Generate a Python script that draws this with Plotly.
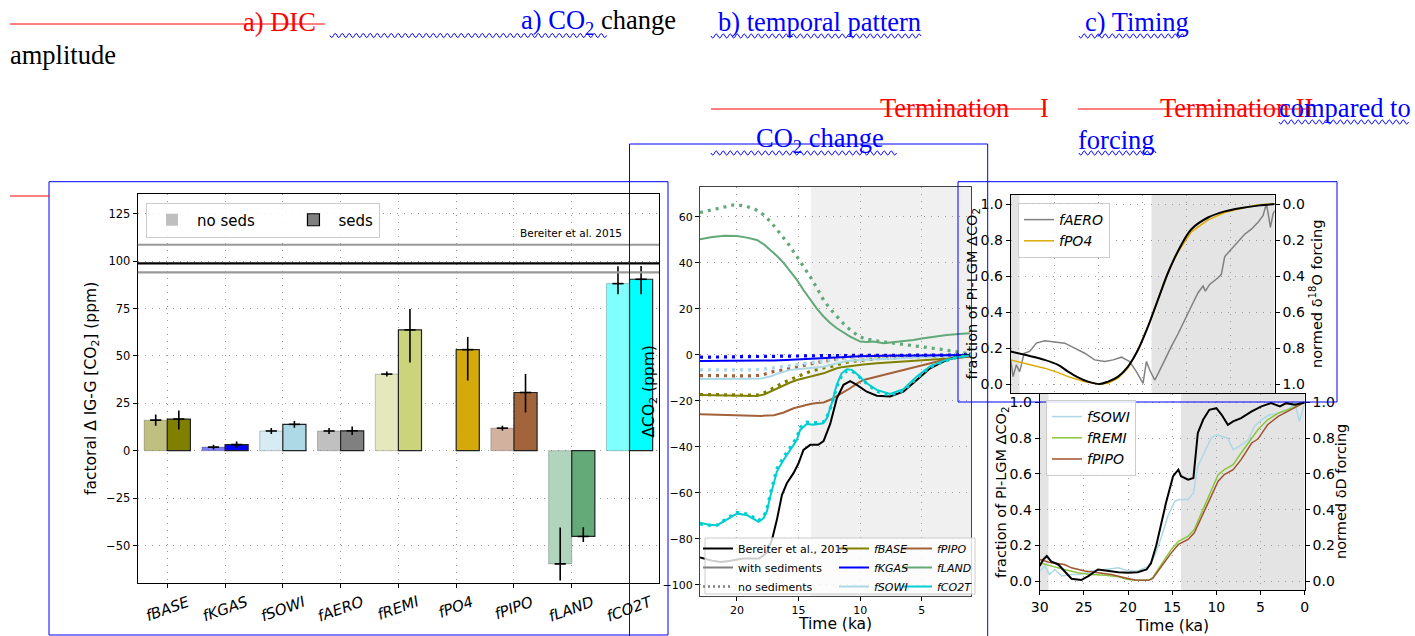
import plotly.graph_objects as go

W, H = 1415, 636


def PX(x):
    return x / W


def PY(y):
    return 1 - y / H


# ---------------- panel a : factorial bar chart ----------------
categories = ['fBASE', 'fKGAS', 'fSOWI', 'fAERO', 'fREMI', 'fPO4', 'fPIPO', 'fLAND', 'fCO2T']
noseds_values = [16.1, 1.9, 10.4, 10.4, 40.4, None, 11.9, -59.7, 88.1]
noseds_err_up = [3.0, 1.2, 1.6, 1.6, 1.3, None, 1.3, 19.2, 9.1]
noseds_err_down = [3.0, 1.2, 1.6, 1.6, 1.3, None, 1.3, 8.8, 5.6]
seds_values = [16.7, 3.2, 13.9, 10.5, 63.7, 53.3, 30.7, -45.2, 90.4]
seds_err_up = [4.5, 1.6, 1.8, 2.2, 11.0, 6.7, 9.8, 4.9, 7.0]
seds_err_down = [5.5, 1.6, 1.8, 2.2, 17.2, 16.3, 10.5, 2.9, 7.9]
noseds_colors = ['#bfbf80', '#8080ff', '#d6ebf2', '#c0c0c0', '#e5e8bd', '#e9d484', '#d2b19f', '#b1d5bc', '#80ffff']
seds_colors = ['#808000', '#0000ff', '#add8e6', '#808080', '#cbd47b', '#d4a90a', '#a3633b', '#64a978', '#00ffff']
bereiter_mean = 98.8
bereiter_high = 108.6
bereiter_low = 94.0
bar_yticks = [-50, -25, 0, 25, 50, 75, 100, 125]

# ---------------- panel b : temporal pattern ----------------
bereiter_t = [23, 22, 21.3, 20.5, 19.5, 18.8, 18.2, 17.6, 17.16, 16.76, 16.35, 15.95, 15.41, 15.0, 14.6, 14.05,
              13.4, 12.97, 12.43, 11.9, 11.35, 10.81, 10.27, 9.46, 8.65, 7.57, 6.49, 5.4, 4.32, 3.24, 2.16, 1.08]
bereiter_v = [-88, -89.5, -90, -89.5, -88.5, -88.5, -88.5, -86, -80.4, -71.7, -60.9, -55.8, -51.4, -47.1, -41.3, -39.1,
              -39.1, -37.5, -30, -19, -13, -11.4, -13, -16, -17.7, -18.1, -16, -10.9, -5.8, -2.9, -0.7, 0]

fco2t_t = [23.0, 22.3, 21.6, 20.8, 20.0, 19.2, 18.7, 18.25, 17.84, 17.57, 17.3, 17.03, 16.76, 16.22, 15.68, 15.14,
           14.87, 14.33, 13.8, 13.3, 13.0, 12.7, 12.3, 11.9, 11.5, 11.08, 10.67, 10.27, 9.46, 8.65, 7.57, 6.49,
           5.4, 4.32, 3.24, 2.16, 1.08]
fco2t_seds = [-73, -73.8, -74, -71.5, -69, -69.6, -71, -72.5, -71, -68, -61.6, -55.8, -50.7, -45.7, -41.5, -37,
              -32.6, -30, -30.4, -30, -29.7, -27.5, -21, -13, -8, -6.2, -6.5, -8.3, -12.3, -15.2, -17, -14.9,
              -9.4, -5, -2.6, -1, -0.3]
fco2t_noseds = [-73.5, -74, -74, -71, -68.5, -69.2, -70.5, -72, -70.5, -67, -60.5, -54.5, -49.5, -44.5, -40.5, -36,
                -31.5, -29.2, -29.6, -29.5, -29.2, -27, -21.5, -14, -9, -7, -7, -8.5, -12.5, -15.8, -17.5, -15.5,
                -10, -5.3, -2.8, -1.1, -0.3]

fland_t = [23.0, 22.0, 21.0, 20.0, 19.2, 18.38, 17.84, 17.3, 16.75, 16.2, 15.67, 15.13, 14.6, 14.05, 13.5, 12.97,
           12.43, 11.89, 11.35, 10.81, 10.27, 10.0, 9.46, 8.92, 8.11, 7.3, 6.49, 5.68, 5.0, 4.32, 3.65, 2.97, 2.0, 1.08]
fland_seds = [50.3, 51.3, 51.8, 51.7, 51.0, 50.0, 48.2, 45.7, 43.0, 39.9, 36.3, 32.6, 28.2, 23.9, 20.0, 16.7,
              13.9, 11.6, 9.7, 8.0, 6.5, 5.8, 5.6, 5.8, 5.1, 5.6, 5.8, 6.5, 7.1, 7.7, 8.2, 8.7, 9.1, 9.4]
fland_nt = [23.0, 22.3, 21.62, 20.9, 20.27, 19.7, 19.19, 18.5, 17.84, 17.2, 16.49, 15.8, 15.13, 14.6, 14.05, 13.5,
            12.97, 12.43, 11.89, 11.35, 10.81, 10.27, 9.73, 9.05, 8.38, 7.57, 6.76, 5.95, 5.14, 4.32, 3.51, 2.7,
            1.89, 1.08]
fland_noseds = [61.9, 62.8, 63.8, 64.7, 65.2, 65.0, 64.5, 63.2, 60.9, 57.5, 52.9, 48, 42.7, 38.5, 34, 29,
                23.9, 20, 16.7, 13.6, 10.9, 8.8, 7.2, 6.4, 5.8, 5.3, 4.8, 4.2, 3.6, 3.0, 2.5, 1.8, 1.1, 0.5]

fbase_t = [23, 21, 19.5, 18.38, 17.8, 17.3, 16.76, 16.2, 15.68, 15.13, 14.6, 14.05, 13.5, 12.97, 12.43, 11.89,
           11.35, 10.81, 9.73, 8.65, 7.57, 6.49, 5.4, 4.32, 3.24, 2.16, 1.08]
fbase_seds = [-17.4, -17.6, -17.8, -17.9, -17.2, -15.9, -14.5, -13, -12, -10.9, -10.2, -9.4, -8.7, -8, -6.9, -5.8,
              -5.2, -4.8, -4.2, -3.6, -3.2, -2.9, -2.5, -2.2, -1.9, -1.3, -0.7]
fbase_noseds = [-17.2, -17.4, -17.6, -17.5, -16.5, -15, -13.5, -12, -10.8, -9.4, -8.3, -7.2, -6.3, -5.6, -5.1, -4.2,
                -3.5, -2.9, -2.2, -1.6, -1.3, -1.0, -0.8, -0.6, -0.4, -0.3, -0.2]

fpipo_t = [23, 21, 19, 18, 17, 16.2, 15.4, 14.6, 14.05, 13.5, 12.97, 12.43, 11.89, 11.35, 10.81, 10.27, 9.73,
           8.65, 7.57, 6.49, 5.4, 4.32, 3.24, 2.16, 1.08]
fpipo_seds = [-25.8, -26.1, -26.4, -26.5, -26.2, -25, -23.2, -22, -21.3, -20.9, -20.7, -19.5, -18, -16.2, -14.5,
              -12.5, -10.9, -9.4, -8, -6.5, -5.1, -3.6, -2.2, -1.2, -0.7]
fpipo_nt = [23, 21, 19, 18, 17.03, 16.2, 15.68, 14.87, 14.05, 13.24, 12.43, 11.62, 10.81, 10.27, 9.2, 8, 6.5, 5,
            3.5, 2, 1.08]
fpipo_noseds = [-9.0, -9.1, -9.1, -8.8, -7.2, -6.5, -5.8, -4.8, -3.9, -3.0, -2.2, -1.5, -0.9, -0.5, -0.4, -0.3,
                -0.3, -0.2, -0.2, -0.1, 0]

fsowi_t = [23, 21, 19, 18, 17.3, 16.76, 16.2, 15.68, 15.13, 14.6, 14.05, 13.5, 12.97, 12.43, 11.89, 11.35, 10.81,
           9.73, 8.65, 7, 5.4, 3.5, 2, 1.08]
fsowi_seds = [-10.5, -10.6, -10.4, -10.2, -9.4, -8.2, -7.2, -6.5, -6.2, -6.0, -5.8, -5.6, -5.1, -4.4, -3.6, -3.0,
              -2.5, -2.1, -1.9, -1.5, -1.0, -0.6, -0.3, -0.1]
fsowi_nt = [23, 21, 19, 18, 17, 16, 15, 14, 13, 12, 11, 10, 8, 6, 4, 2, 1.08]
fsowi_noseds = [-6.5, -6.6, -6.5, -6.3, -5.6, -4.8, -4.0, -3.3, -2.6, -1.9, -1.3, -0.9, -0.6, -0.4, -0.3, -0.1, 0]

fkgas_t = [23, 20, 18, 17, 16, 15, 14, 13, 12, 11, 10, 8, 6, 4, 2, 1.08]
fkgas_seds = [-2.6, -2.6, -2.5, -2.4, -2.2, -1.9, -1.6, -1.3, -1.0, -0.8, -0.6, -0.4, -0.3, -0.2, -0.1, 0]
fkgas_noseds = [-1.0, -0.9, -0.8, -0.7, -0.6, -0.5, -0.4, -0.3, -0.25, -0.2, -0.2, -0.1, -0.1, -0.1, 0, 0]

# ---------------- panel c : timing vs forcing ----------------
aero_t = [30.0, 29.73, 29.36, 28.98, 28.48, 27.84, 27.08, 26.14, 25.0, 23.86, 22.73, 21.59, 20.45, 19.32, 18.37,
          17.42, 16.48, 15.72, 14.96, 14.58, 14.2, 13.64, 13.26, 12.5, 11.74, 10.98, 10.23, 9.47, 8.71, 8.14, 7.88,
          7.39, 6.44, 6.06, 5.68, 4.92, 4.17, 3.41, 2.65, 1.89, 1.33, 0.95, 0.76, 0.49, 0.19, 0.0]
aero_v = [0.134, 0.041, 0.106, 0.069, 0.171, 0.181, 0.227, 0.240, 0.233, 0.227, 0.199, 0.171, 0.134, 0.125, 0.134,
          0.149, 0.125, 0.069, 0.004, 0.125, 0.078, 0.022, 0.056, 0.134, 0.209, 0.279, 0.358, 0.432, 0.507, 0.544,
          0.516, 0.553, 0.590, 0.609, 0.708, 0.749, 0.786, 0.832, 0.860, 0.898, 0.935, 1.0, 0.953, 0.870, 0.944, 0.963]
po4_t = [30, 28.41, 26.14, 24.62, 23.48, 21.59, 19.89, 18.94, 17.8, 16.67, 15.53, 14.39, 13.26, 12.12, 10.98,
         9.47, 7.58, 5.68, 3.79, 1.89, 0]
po4_v = [0.134, 0.115, 0.088, 0.063, 0.041, 0.013, 0.0, 0.004, 0.032, 0.088, 0.19, 0.32, 0.473, 0.622, 0.734,
         0.845, 0.912, 0.953, 0.976, 0.996, 1.0]
d18o_t = [30, 28.41, 26.14, 24.62, 23.48, 22.35, 21.21, 19.89, 18.94, 17.8, 16.67, 15.53, 14.39, 13.26, 12.12,
          10.98, 9.47, 7.58, 5.68, 3.79, 1.89, 0]
d18o_v = [0.819, 0.838, 0.866, 0.894, 0.931, 0.963, 0.987, 1.0, 0.987, 0.959, 0.903, 0.81, 0.68, 0.531, 0.382,
          0.261, 0.14, 0.075, 0.041, 0.022, 0.009, 0.0]

dD_t = [30, 29.6, 29.2, 28.7, 27.9, 27.2, 26.4, 25.3, 24.5, 23.4, 22.3, 21.1, 20.0, 18.9, 17.9, 17.4, 16.8, 16.2,
        15.7, 14.9, 14.3, 14.0, 13.2, 12.6, 12.1, 11.5, 10.8, 10.0, 9.4, 8.7, 8.1, 7.2, 6.0, 4.9, 3.8, 2.8, 2.1, 1.1, 0.0]
dD_v = [0.084, 0.12, 0.14, 0.11, 0.093, 0.056, 0.013, 0.006, 0.028, 0.065, 0.056, 0.05, 0.047, 0.05, 0.065, 0.1,
        0.2, 0.326, 0.438, 0.587, 0.624, 0.587, 0.568, 0.577, 0.829, 0.903, 0.959, 0.968, 0.931, 0.875, 0.894,
        0.912, 0.95, 0.978, 0.996, 0.978, 0.996, 0.987, 1.0]
sowi_t = [30, 29.4, 28.9, 28.3, 27.5, 26.4, 25.3, 24.2, 22.6, 21.1, 20.0, 18.9, 17.7, 17.0, 16.2, 15.5, 14.7, 14.2,
          13.2, 12.6, 12.1, 11.3, 10.6, 10.0, 9.4, 8.7, 8.1, 7.4, 6.4, 5.7, 4.9, 4.0, 3.0, 1.9, 1.1, 0.6, 0.0]
sowi_v = [0.056, 0.084, 0.037, 0.065, 0.028, 0.037, 0.037, 0.056, 0.065, 0.074, 0.056, 0.056, 0.084, 0.14, 0.25,
          0.363, 0.447, 0.456, 0.456, 0.493, 0.642, 0.726, 0.8, 0.819, 0.81, 0.8, 0.736, 0.754, 0.79, 0.866, 0.903,
          0.931, 0.94, 0.959, 0.996, 0.894, 0.996]
remi_t = [30, 28.7, 27.2, 25.7, 24.2, 22.6, 21.1, 20.0, 18.9, 17.7, 17.2, 16.6, 15.8, 15.1, 14.3, 13.2, 12.5, 11.7,
          10.6, 9.8, 9.1, 8.1, 7.2, 6.0, 5.3, 4.2, 3.0, 1.5, 0.0]
remi_v = [0.102, 0.084, 0.065, 0.047, 0.037, 0.032, 0.024, 0.009, 0.004, 0.004, 0.019, 0.065, 0.121, 0.177, 0.223,
          0.251, 0.289, 0.382, 0.512, 0.596, 0.624, 0.652, 0.717, 0.8, 0.847, 0.903, 0.94, 0.968, 1.0]
pipo_t = [30, 28.7, 27.2, 26.4, 24.9, 23.4, 21.9, 20.4, 19.2, 17.7, 17.2, 16.6, 15.8, 15.1, 14.3, 13.2, 12.5, 11.7,
          10.6, 9.8, 9.1, 8.1, 7.2, 6.0, 5.3, 4.2, 3.0, 1.5, 0.0]
pipo_v = [0.121, 0.102, 0.093, 0.074, 0.056, 0.047, 0.037, 0.019, 0.006, 0.004, 0.015, 0.056, 0.112, 0.158, 0.205,
          0.233, 0.27, 0.354, 0.475, 0.559, 0.596, 0.624, 0.68, 0.773, 0.795, 0.875, 0.922, 0.959, 1.0]
frac_ticks = [0.0, 0.2, 0.4, 0.6, 0.8, 1.0]

# ---------------- figure ----------------
FONT = 'DejaVu Sans'
SERIF = 'Liberation Serif'
fig = go.Figure()

# panel a bars
idx = list(range(len(categories)))
fig.add_trace(go.Bar(
    x=[i - 0.2 for i in idx], y=noseds_values, width=0.4, xaxis='x', yaxis='y', showlegend=False,
    marker=dict(color=noseds_colors, line=dict(color='rgba(0,0,0,0.22)', width=1)),
    error_y=dict(type='data', symmetric=False, array=noseds_err_up, arrayminus=noseds_err_down,
                 color='black', thickness=1.6, width=0)))
fig.add_trace(go.Bar(
    x=[i + 0.2 for i in idx], y=seds_values, width=0.4, xaxis='x', yaxis='y', showlegend=False,
    marker=dict(color=seds_colors, line=dict(color='#222222', width=1.2)),
    error_y=dict(type='data', symmetric=False, array=seds_err_up, arrayminus=seds_err_down,
                 color='black', thickness=1.6, width=0)))
fig.add_trace(go.Scatter(
    x=[i - 0.2 for i in idx] + [i + 0.2 for i in idx], y=noseds_values + seds_values, mode='markers',
    xaxis='x', yaxis='y', showlegend=False, hoverinfo='skip',
    marker=dict(symbol='line-ew', size=8, line=dict(color='black', width=1.6))))
fig.add_trace(go.Bar(x=[None], y=[None], name='no seds' + '\u00a0' * 6, xaxis='x', yaxis='y', legend='legend',
                     marker=dict(color='#bfbfbf', line=dict(width=0))))
fig.add_trace(go.Bar(x=[None], y=[None], name='seds', xaxis='x', yaxis='y', legend='legend',
                     marker=dict(color='#808080', line=dict(color='black', width=1.2))))

# panel b lines
DOT = '3px,5px'
series_b = [
    ('<i>fLAND</i>', '#62a878', fland_t, fland_seds, fland_nt, fland_noseds, 'legend4', 2),
    ('<i>fBASE</i>', '#808000', fbase_t, fbase_seds, fbase_t, fbase_noseds, 'legend3', 1),
    ('<i>fPIPO</i>', '#a3613a', fpipo_t, fpipo_seds, fpipo_nt, fpipo_noseds, 'legend4', 1),
    ('<i>fSOWI</i>', '#add8e6', fsowi_t, fsowi_seds, fsowi_nt, fsowi_noseds, 'legend3', 3),
    ('<i>fKGAS</i>', '#0000ff', fkgas_t, fkgas_seds, fkgas_t, fkgas_noseds, 'legend3', 2),
]
for name, col, t1, v1, t2, v2, lg, rank in series_b:
    fig.add_trace(go.Scatter(x=t1, y=v1, mode='lines', name=name, legend=lg, legendrank=rank,
                             line=dict(color=col, width=2), xaxis='x2', yaxis='y2'))
    fig.add_trace(go.Scatter(x=t2, y=v2, mode='lines', showlegend=False,
                             line=dict(color=col, width=3.2, dash=DOT), xaxis='x2', yaxis='y2'))
fig.add_trace(go.Scatter(x=bereiter_t, y=bereiter_v, mode='lines', name='Bereiter et al., 2015', legend='legend2',
                         legendrank=1, line=dict(color='black', width=2), xaxis='x2', yaxis='y2'))
fig.add_trace(go.Scatter(x=fco2t_t, y=fco2t_seds, mode='lines', name='<i>fCO2T</i>', legend='legend4', legendrank=3,
                         line=dict(color='#00ced1', width=2), xaxis='x2', yaxis='y2'))
fig.add_trace(go.Scatter(x=fco2t_t, y=fco2t_noseds, mode='lines', showlegend=False,
                         line=dict(color='#00ced1', width=3.2, dash=DOT), xaxis='x2', yaxis='y2'))
fig.add_trace(go.Scatter(x=[None], y=[None], mode='lines', name='with sediments', legend='legend2', legendrank=2,
                         line=dict(color='#808080', width=2), xaxis='x2', yaxis='y2'))
fig.add_trace(go.Scatter(x=[None], y=[None], mode='lines', name='no sediments', legend='legend2', legendrank=3,
                         line=dict(color='#808080', width=2.5, dash='2px,3px'), xaxis='x2', yaxis='y2'))

# panel c top
fig.add_trace(go.Scatter(x=aero_t, y=aero_v, mode='lines', name='<i>fAERO</i>', legend='legend5',
                         line=dict(color='#808080', width=1.5), xaxis='x3', yaxis='y3'))
fig.add_trace(go.Scatter(x=po4_t, y=po4_v, mode='lines', name='<i>fPO4</i>', legend='legend5',
                         line=dict(color='#dcaa00', width=1.5), xaxis='x3', yaxis='y3'))
fig.add_trace(go.Scatter(x=d18o_t, y=d18o_v, mode='lines', showlegend=False,
                         line=dict(color='black', width=2, shape='spline'), xaxis='x3', yaxis='y4'))
# panel c bottom
fig.add_trace(go.Scatter(x=sowi_t, y=sowi_v, mode='lines', name='<i>fSOWI</i>', legend='legend6',
                         line=dict(color='#add8e6', width=1.5), xaxis='x4', yaxis='y5'))
fig.add_trace(go.Scatter(x=remi_t, y=remi_v, mode='lines', name='<i>fREMI</i>', legend='legend6',
                         line=dict(color='#8cc63f', width=1.5), xaxis='x4', yaxis='y5'))
fig.add_trace(go.Scatter(x=pipo_t, y=pipo_v, mode='lines', name='<i>fPIPO</i>', legend='legend6',
                         line=dict(color='#a0522d', width=1.5), xaxis='x4', yaxis='y5'))
fig.add_trace(go.Scatter(x=dD_t, y=dD_v, mode='lines', showlegend=False,
                         line=dict(color='black', width=2), xaxis='x4', yaxis='y6'))


def axis(**kw):
    base = dict(showline=True, linecolor='black', linewidth=1.2, mirror=True, ticks='outside', ticklen=4,
                tickcolor='black', tickwidth=1, showgrid=True, gridcolor='#999999', griddash='1px,6px',
                gridwidth=1.2, zeroline=False, automargin=False,
                tickfont=dict(family=FONT, size=11, color='black'))
    base.update(kw)
    return base


layout = dict(
    width=W, height=H, margin=dict(l=0, r=0, t=0, b=0, pad=0, autoexpand=False), autosize=False,
    paper_bgcolor='white', plot_bgcolor='white', barmode='overlay',
    font=dict(family=FONT, color='black'),
    xaxis=axis(domain=[PX(137.8), PX(659)], range=[-0.51, 8.51], tickvals=idx, showticklabels=False, anchor='y'),
    yaxis=axis(domain=[PY(582.7), PY(194.3)], range=[-69.6, 135.2], tickvals=bar_yticks, anchor='x',
               tickfont=dict(family=FONT, size=11.5, color='black')),
    xaxis2=axis(domain=[PX(700), PX(971)], range=[23, 1], tickvals=[20, 15, 10, 5], anchor='y2',
                linecolor='#444444'),
    yaxis2=axis(domain=[PY(596), PY(187)], range=[-104.8, 73], tickvals=list(range(-100, 61, 20)), anchor='x2',
                linecolor='#444444'),
    xaxis3=axis(domain=[PX(1010.7), PX(1274.7)], range=[30, 0], tickvals=[30, 25, 20, 15, 10, 5, 0],
                showticklabels=False, ticks='', anchor='y3'),
    yaxis3=axis(domain=[PY(393), PY(195)], range=[-0.05, 1.05], tickvals=frac_ticks, tickformat='.1f',
                anchor='x3', tickfont=dict(family=FONT, size=14, color='black')),
    yaxis4=axis(overlaying='y3', side='right', anchor='x3', range=[1.05, -0.05], tickvals=frac_ticks,
                tickformat='.1f', showgrid=False, mirror=False, tickfont=dict(family=FONT, size=14, color='black')),
    xaxis4=axis(domain=[PX(1039.7), PX(1304.7)], range=[30, 0], tickvals=[30, 25, 20, 15, 10, 5, 0], anchor='y5',
                tickfont=dict(family=FONT, size=14, color='black')),
    yaxis5=axis(domain=[PY(590), PY(393.5)], range=[-0.05, 1.05], tickvals=frac_ticks, tickformat='.1f',
                anchor='x4', tickfont=dict(family=FONT, size=14, color='black')),
    yaxis6=axis(overlaying='y5', side='right', anchor='x4', range=[-0.05, 1.05], tickvals=frac_ticks,
                tickformat='.1f', showgrid=False, mirror=False, tickfont=dict(family=FONT, size=14, color='black')),
    legend=dict(x=PX(146), y=PY(202.5), xanchor='left', yanchor='top', orientation='h', itemwidth=40,
                bgcolor='rgba(255,255,255,0.85)', bordercolor='#cccccc', borderwidth=1,
                font=dict(family=FONT, size=15, color='black')),
    legend2=dict(x=PX(698), y=PY(534), xanchor='left', yanchor='top', bgcolor='rgba(0,0,0,0)', borderwidth=0,
                 font=dict(family=FONT, size=11, color='black'), tracegroupgap=0),
    legend3=dict(x=PX(834), y=PY(534), xanchor='left', yanchor='top', bgcolor='rgba(0,0,0,0)', borderwidth=0,
                 font=dict(family=FONT, size=11, color='black'), tracegroupgap=0),
    legend4=dict(x=PX(897), y=PY(534), xanchor='left', yanchor='top', bgcolor='rgba(0,0,0,0)', borderwidth=0,
                 font=dict(family=FONT, size=11, color='black'), tracegroupgap=0),
    legend5=dict(x=PX(1018), y=PY(203), xanchor='left', yanchor='top', bgcolor='rgba(255,255,255,0.85)',
                 bordercolor='#cccccc', borderwidth=1, font=dict(family=FONT, size=14, color='black')),
    legend6=dict(x=PX(1046), y=PY(400), xanchor='left', yanchor='top', bgcolor='rgba(255,255,255,0.85)',
                 bordercolor='#cccccc', borderwidth=1, font=dict(family=FONT, size=14, color='black')),
)

shapes = []
# shading
shapes.append(dict(type='rect', xref='x2', yref='y2 domain', x0=14, x1=1, y0=0, y1=1, fillcolor='#f0f0f0',
                   line=dict(width=0), layer='below'))
for xr, yr in [('x3', 'y3 domain'), ('x4', 'y5 domain')]:
    shapes.append(dict(type='rect', xref=xr, yref=yr, x0=14, x1=0, y0=0, y1=1, fillcolor='#e4e4e4',
                       line=dict(width=0), layer='below'))
    shapes.append(dict(type='rect', xref=xr, yref=yr, x0=30, x1=29, y0=0, y1=1, fillcolor='#e4e4e4',
                       line=dict(width=0), layer='below'))
# Bereiter reference lines
for val, col in [(bereiter_high, '#999999'), (bereiter_low, '#999999'), (bereiter_mean, 'black')]:
    shapes.append(dict(type='line', xref='x domain', yref='y', x0=0, x1=1, y0=val, y1=val,
                       line=dict(color=col, width=2.2), layer='above'))
# middle legend box
shapes.append(dict(type='rect', xref='paper', yref='paper', x0=PX(705), x1=PX(975), y0=PY(594), y1=PY(538),
                   fillcolor='rgba(255,255,255,0.8)', line=dict(color='#cccccc', width=1), layer='above'))


def prect(x0, y0, x1, y1, col='blue'):
    return dict(type='rect', xref='paper', yref='paper', x0=PX(x0), x1=PX(x1), y0=PY(y1), y1=PY(y0),
                line=dict(color=col, width=1), fillcolor='rgba(0,0,0,0)', layer='above')


def pline(x0, y0, x1, y1, col='red'):
    return dict(type='line', xref='paper', yref='paper', x0=PX(x0), x1=PX(x1), y0=PY(y0), y1=PY(y1),
                line=dict(color=col, width=1), layer='above')


def wavy(x0, x1, y, amp=2.0, period=7.0, col='blue'):
    n = int((x1 - x0) / (period / 2))
    d = f"M{PX(x0):.5f},{PY(y):.5f}"
    for k in range(n):
        xa = x0 + k * period / 2
        xb = xa + period / 2
        cy = y + (2 * amp if k % 2 == 0 else -2 * amp)
        d += f" Q{PX((xa + xb) / 2):.5f},{PY(cy):.5f} {PX(xb):.5f},{PY(y):.5f}"
    return dict(type='path', xref='paper', yref='paper', path=d, line=dict(color=col, width=1), layer='above')


shapes += [
    prect(49, 181.7, 668, 635),
    prect(629.5, 144, 987.7, 640),
    prect(958, 181.7, 1337, 402),
    pline(10, 196, 49, 196),
    pline(10, 24, 325, 24),
    pline(711, 109, 1046, 109),
    pline(1078, 109, 1311, 109),
    wavy(330, 608, 35.5),
    wavy(711, 924, 36),
    wavy(1079, 1186, 36),
    wavy(1279, 1410, 122),
    wavy(1079, 1158, 153),
    wavy(711, 898, 153),
]
layout['shapes'] = shapes

ann = []


def text(x, y, s, size, col='black', xanchor='left', yanchor='middle', angle=0, family=FONT):
    ann.append(dict(x=PX(x), y=PY(y), xref='paper', yref='paper', text=s, showarrow=False, xanchor=xanchor,
                    yanchor=yanchor, textangle=angle, font=dict(family=family, size=size, color=col)))


# header texts (serif)
text(241, 22, 'a) DIC', 26.5, 'red', family=SERIF)
text(519, 22, "a) CO<sub>2</sub> <span style='color:black'>change</span>", 26.5, 'blue', family=SERIF)
text(8, 55, 'amplitude', 26.5, 'black', family=SERIF)
text(716, 22, 'b) temporal pattern', 26.5, 'blue', family=SERIF)
text(1083, 22, 'c) Timing', 26.5, 'blue', family=SERIF)
text(878, 108, 'Termination', 26.5, 'red', family=SERIF)
text(1038, 108, 'I', 26.5, 'red', family=SERIF)
text(1158, 108, 'Termination II', 26.5, 'red', family=SERIF)
text(1277, 108, 'compared to', 26.5, 'blue', family=SERIF)
text(1076, 140, 'forcing', 26.5, 'blue', family=SERIF)
text(754, 140, 'CO<sub>2</sub> change', 26.5, 'blue', family=SERIF)

# panel a texts
text(92.5, 388.5, 'factoral Δ IG-G [CO<sub>2</sub>] (ppm)', 15.5, xanchor='center', angle=-90)
text(624, 232.7, 'Bereiter et al. 2015', 10.5, xanchor='right')
for i, c in enumerate(categories):
    ann.append(dict(x=i, y=PY(590), xref='x', yref='paper', text=f'<i>{c}</i>', showarrow=False,
                    xanchor='center', yanchor='top', textangle=-20,
                    font=dict(family=FONT, size=15, color='black')))
# panel b texts
text(649, 391.5, 'ΔCO<sub>2</sub> (ppm)', 15.5, xanchor='center', angle=-90)
text(835.5, 624, 'Time (ka)', 15.5, xanchor='center')
# panel c texts
text(972.5, 294, 'fraction of PI-LGM ΔCO<sub>2</sub>', 14.5, xanchor='center', angle=-90)
text(1316, 294, 'normed δ<sup>18</sup>O forcing', 14.5, xanchor='center', angle=-90)
text(1002, 492, 'fraction of PI-LGM ΔCO<sub>2</sub>', 14.5, xanchor='center', angle=-90)
text(1341, 492, 'normed δD forcing', 14.5, xanchor='center', angle=-90)
text(1172, 626, 'Time (ka)', 15.5, xanchor='center')
layout['annotations'] = ann

fig.update_layout(**layout)
fig.write_html('out.html')
